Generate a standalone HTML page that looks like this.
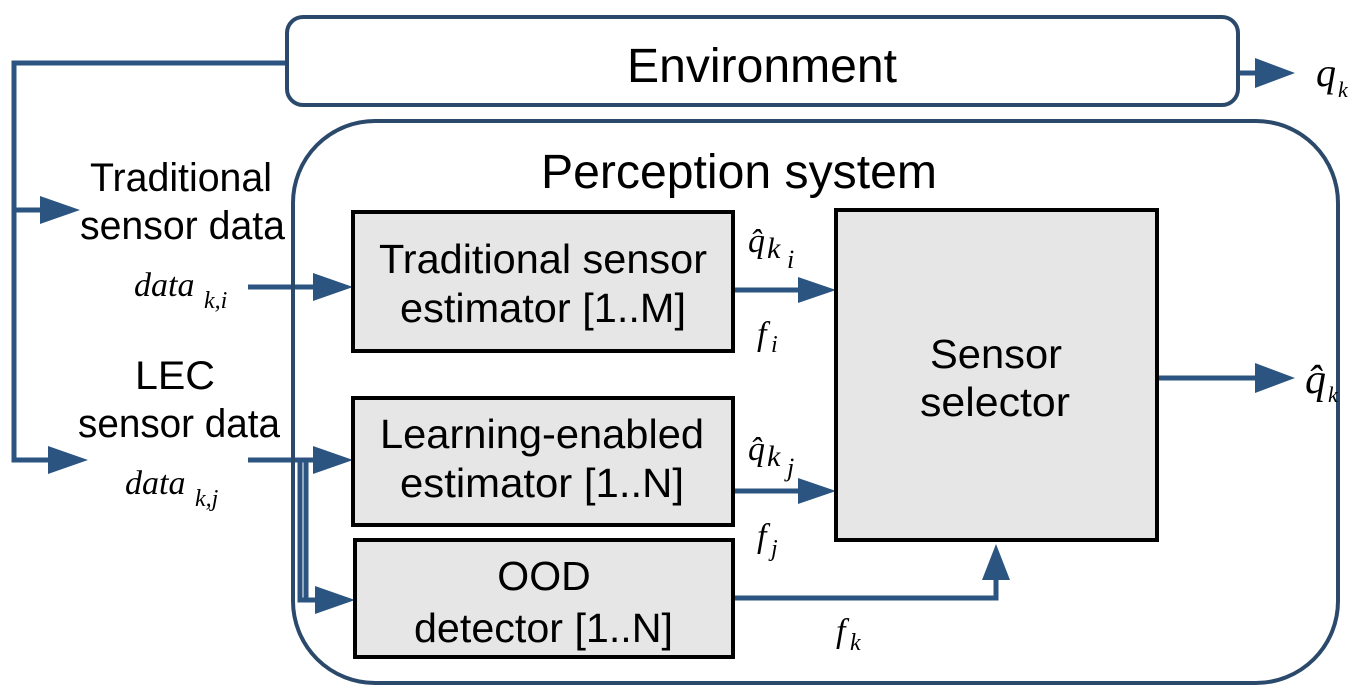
<!DOCTYPE html>
<html><head><style>
html,body{margin:0;padding:0;background:#fff}
svg{display:block}
text{font-family:"Liberation Sans",sans-serif;fill:#000}
.m{font-family:"Liberation Serif",serif;font-style:italic}
</style></head><body>
<svg width="1368" height="694" viewBox="0 0 1368 694">
<g fill="none" stroke="#2b5580" stroke-width="5">
<polyline points="287,63 14,63 14,460 50,460"/>
<line x1="14" y1="210" x2="42" y2="210"/>
<line x1="248" y1="287" x2="316" y2="287"/>
<polyline points="248,460 316,460"/>
<polyline points="300,460 300,600 318,600"/>
<polyline points="306,460 306,600"/>
<line x1="733" y1="290" x2="800" y2="290"/>
<line x1="733" y1="491" x2="800" y2="491"/>
<polyline points="733,598 996,598 996,580"/>
<line x1="1157" y1="378" x2="1258" y2="378"/>
<line x1="1238" y1="73" x2="1258" y2="73"/>
</g>
<g fill="#2b5580">
<path d="M40,196 L80,210 L40,224z"/>
<path d="M48,446 L88,460 L48,474z"/>
<path d="M313,273 L353,287 L313,301z"/>
<path d="M313,446 L353,460 L313,474z"/>
<path d="M315,586 L355,600 L315,614z"/>
<path d="M798,277 L836,290 L798,303z"/>
<path d="M798,478 L836,491 L798,504z"/>
<path d="M982,580 L996,544 L1010,580z"/>
<path d="M1255,363 L1295,378 L1255,393z"/>
<path d="M1255,58 L1295,73 L1255,88z"/>
</g>
<rect x="287" y="17" width="951" height="88" rx="16" fill="#fff" stroke="#2b4a6b" stroke-width="4"/>
<rect x="293" y="121" width="1045" height="562" rx="82" fill="none" stroke="#2b4a6b" stroke-width="4"/>
<g fill="#e6e6e6" stroke="#000" stroke-width="4">
<rect x="353" y="212" width="380" height="139"/>
<rect x="353" y="398" width="380" height="127"/>
<rect x="355" y="540" width="378" height="117"/>
<rect x="836" y="210" width="321" height="330"/>
</g>
<g font-size="48">
<text x="627" y="82" textLength="270" lengthAdjust="spacingAndGlyphs">Environment</text>
<text x="541" y="188" textLength="396" lengthAdjust="spacingAndGlyphs">Perception system</text>
</g>
<g font-size="40">
<text x="90" y="191" textLength="182" lengthAdjust="spacingAndGlyphs">Traditional</text>
<text x="80" y="239" textLength="205" lengthAdjust="spacingAndGlyphs">sensor data</text>
<text x="135" y="389" textLength="80" lengthAdjust="spacingAndGlyphs">LEC</text>
<text x="78" y="437" textLength="202" lengthAdjust="spacingAndGlyphs">sensor data</text>
</g>
<g font-size="41">
<text x="379" y="273" textLength="328" lengthAdjust="spacingAndGlyphs">Traditional sensor</text>
<text x="400" y="322" textLength="286" lengthAdjust="spacingAndGlyphs">estimator [1..M]</text>
<text x="380" y="448" textLength="324" lengthAdjust="spacingAndGlyphs">Learning-enabled</text>
<text x="400" y="497" textLength="284" lengthAdjust="spacingAndGlyphs">estimator [1..N]</text>
<text x="544" y="590" text-anchor="middle">OOD</text>
<text x="414" y="642" textLength="259" lengthAdjust="spacingAndGlyphs">detector [1..N]</text>
<text x="930" y="368" textLength="132" lengthAdjust="spacingAndGlyphs">Sensor</text>
<text x="920" y="416" textLength="150" lengthAdjust="spacingAndGlyphs">selector</text>
</g>
<g class="m" font-size="34">
<text x="134" y="296" class="m">data</text><text x="204" y="308" font-size="24" class="m">k,i</text>
<text x="125" y="494" class="m">data</text><text x="195" y="506" font-size="24" class="m">k,j</text>
<text x="1316" y="86" class="m" font-size="40">q</text><text x="1338" y="97" font-size="22" class="m">k</text>
<text x="1305" y="393" class="m" font-size="42">q̂</text><text x="1328" y="402" font-size="22" class="m">k</text>
<text x="748" y="252" class="m" font-size="34">q̂</text><text x="767" y="258" class="m" font-size="30">k</text><text x="787" y="268" class="m" font-size="26">i</text>
<text x="757" y="345" class="m">f</text><text x="771" y="352" font-size="24" class="m">i</text>
<text x="748" y="460" class="m" font-size="34">q̂</text><text x="767" y="466" class="m" font-size="30">k</text><text x="787" y="476" class="m" font-size="26">j</text>
<text x="757" y="547" class="m">f</text><text x="771" y="556" font-size="24" class="m">j</text>
<text x="836" y="642" class="m">f</text><text x="850" y="650" font-size="24" class="m">k</text>
</g>
</svg>
</body></html>
